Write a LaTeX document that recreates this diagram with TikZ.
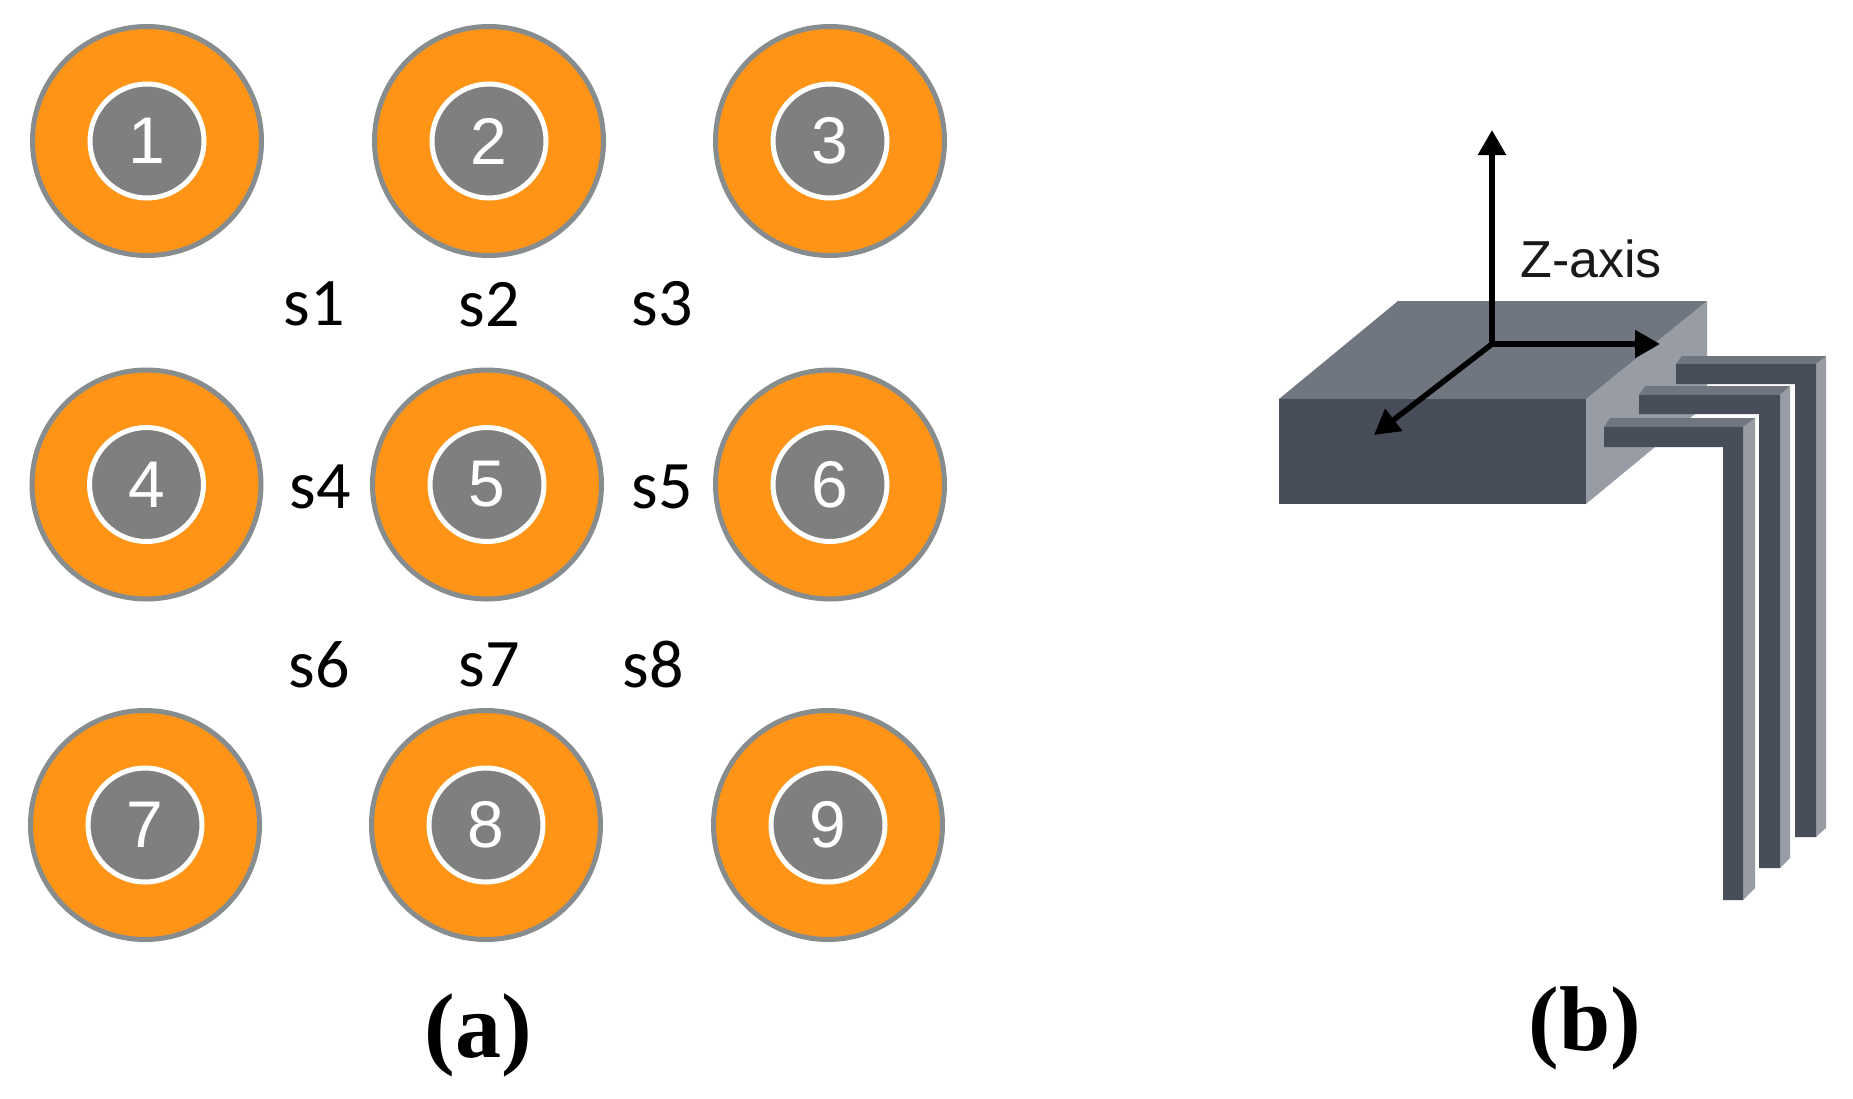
\documentclass[tikz,border=0pt]{standalone}
\usepackage{fontspec}
\setmainfont{Liberation Sans}
\newfontfamily\labfont{Carlito}
\newfontfamily\capfont{Liberation Serif}
\usetikzlibrary{arrows.meta}
\definecolor{discorange}{HTML}{FF9416}
\definecolor{discrim}{HTML}{878C8F}
\definecolor{discgray}{HTML}{7F7F7F}
\definecolor{frontc}{HTML}{484D5A}
\definecolor{topc}{HTML}{70767F}
\definecolor{sidec}{HTML}{989CA5}
\tikzset{
  x=1pt,y=-1pt,
  outerdisc/.style={circle,draw=discrim,fill=discorange,line width=5pt,minimum size=229pt,inner sep=0pt},
  innerdisc/.style={circle,draw=white,fill=discgray,line width=5pt,minimum size=114pt,inner sep=0pt,text=white,font=\fontsize{66}{66}\selectfont},
  slabel/.style={font=\labfont\fontsize{68}{68}\selectfont,text=black,inner sep=0pt},
  caplabel/.style={font=\capfont\bfseries\fontsize{92}{92}\selectfont,text=black,inner sep=0pt},
  axislabel/.style={font=\fontsize{52}{52}\selectfont,text=black!90,inner sep=0pt},
  frontface/.style={fill=frontc},
  topface/.style={fill=topc},
  sideface/.style={fill=sidec},
  axisarrow/.style={draw=black,line width=5.5pt,-{Triangle[length=25pt,width=27pt]}},
}
\begin{document}
\begin{tikzpicture}
\useasboundingbox (0,0) rectangle (1853,1098);
\fill[white] (0,0) rectangle (1853,1098);
% discs
\foreach \n/\x/\y in {1/147/141,2/489/141,3/830/141,4/146.5/484.5,5/487/484.5,6/830/484.5,7/145/825,8/486/825,9/828/825}{
  \node[outerdisc] (disc\n) at (\x,\y) {};
  \node[innerdisc] (num\n) at (disc\n) {\n};
}
% s labels
\node[slabel] (s1) at (314,304) {s1};
\node[slabel] (s2) at (489,305) {s2};
\node[slabel] (s3) at (662,304) {s3};
\node[slabel] (s4) at (320,487) {s4};
\node[slabel] (s5) at (662,487) {s5};
\node[slabel] (s6) at (319,665) {s6};
\node[slabel] (s7) at (489,665) {s7};
\node[slabel] (s8) at (653.5,665) {s8};
% captions
\node[caplabel] (capa) at (478,1035) {(a)};
\node[caplabel] (capb) at (1585,1028) {(b)};
% block
\fill[sideface] (1586,399) -- (1707,301) -- (1707,404) -- (1586,504) -- cycle;
\fill[topface] (1279,399) -- (1398,301) -- (1707,301) -- (1586,399) -- cycle;
\fill[frontface] (1279,399) rectangle (1586,504);
% pins, back to front
\foreach \l/\tt/\ft/\ab/\il/\fr/\sr/\bt/\sb in {1676/356/364/384/1795/1816/1826/837/828,
                                                1639/386/395/414/1759/1780/1790/868/858,
                                                1604/418/427/447/1723/1743/1755/900/888}{
  \fill[sideface] (\fr,\ft) -- (\sr,\tt) -- (\sr,\sb) -- (\fr,\bt) -- cycle;
  \fill[topface] (\l,\ft) -- (\l+6,\tt) -- (\sr,\tt) -- (\fr,\ft) -- cycle;
  \fill[frontface] (\l,\ft) -- (\fr,\ft) -- (\fr,\bt) -- (\il,\bt) -- (\il,\ab) -- (\l,\ab) -- cycle;
}
% axes
\coordinate (origin) at (1492,344);
\coordinate (zend) at (1492,130);
\coordinate (xend) at (1660,344);
\coordinate (yend) at (1374,435);
\draw[axisarrow] (origin) -- (zend);
\draw[axisarrow] (origin) -- (xend);
\draw[axisarrow] (origin) -- (yend);
\node[axislabel] (zlabel) at (1591,259) {Z-axis};
\end{tikzpicture}
\end{document}
